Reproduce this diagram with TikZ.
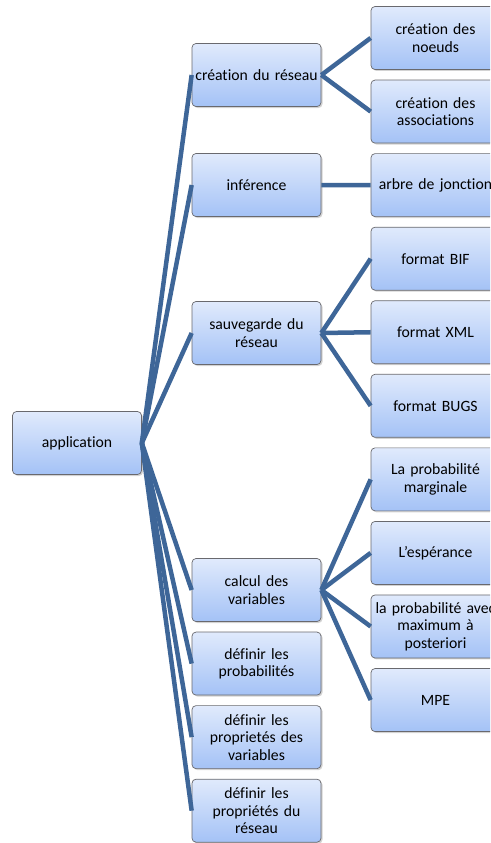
\documentclass[tikz,border=0pt]{standalone}
\usepackage{fontspec}
\setmainfont{Carlito}[Ligatures=CommonOff]
\usepackage{tikz}
\usetikzlibrary{positioning,shadows}

\definecolor{boxtop}{RGB}{224,234,252}
\definecolor{boxbot}{RGB}{164,194,246}
\definecolor{boxline}{RGB}{105,105,110}
\definecolor{linkblue}{RGB}{62,102,152}

\tikzset{
  box/.style={rectangle,rounded corners=4pt,draw=boxline,line width=0.7pt,
    top color=boxtop,bottom color=boxbot,
    text width=125pt,inner sep=2pt,minimum height=63pt,align=center,
    font=\fontsize{15.7pt}{17.5pt}\selectfont,
    drop shadow={shadow xshift=1.5pt,shadow yshift=-1.5pt,opacity=0.35}},
  link/.style={draw=linkblue,line width=4.5pt}
}

\begin{document}
\begin{tikzpicture}[on grid,x=1pt,y=-1pt,node distance=73.56pt]
  \useasboundingbox (0,0) rectangle (490,843);
  \clip (0,0) rectangle (490,843);
  % second level column
  \node[box] (noeuds) at (435.5,38) {création des\\noeuds};
  \node[box,below=of noeuds] (assoc) {création des\\associations};
  \node[box,below=of assoc] (jonction) {arbre de jonction};
  \node[box,below=of jonction] (bif) {format BIF};
  \node[box,below=of bif] (xml) {format XML};
  \node[box,below=of xml] (bugs) {format BUGS};
  \node[box,below=of bugs] (marg) {La probabilité\\marginale};
  \node[box,below=of marg] (esper) {L’espérance};
  \node[box,below=of esper] (posteri) {la probabilité avec\\maximum à\\posteriori};
  \node[box,below=of posteri] (mpe) {MPE};
  % first level
  \node[box] (reseau) at (256.5,75) {création du réseau};
  \node[box] (infer) at (256.5,185) {inférence};
  \node[box] (sauve) at (256.5,333) {sauvegarde du\\réseau};
  \node[box] (calcul) at (256.5,590) {calcul des\\variables};
  \node[box,below=of calcul] (proba) {définir les\\probabilités};
  \node[box,below=of proba] (propvar) {définir les\\proprietés des\\variables};
  \node[box,below=of propvar] (propres) {définir les\\propriétés du\\réseau};
  % root
  \node[box] (app) at (77,443) {application};
  % links
  \foreach \child in {reseau,infer,sauve,calcul,proba,propvar,propres}
    \draw[link] (app.east) -- (\child.west);
  \foreach \parent/\child in {reseau/noeuds,reseau/assoc,infer/jonction,
      sauve/bif,sauve/xml,sauve/bugs,calcul/marg,calcul/esper,
      calcul/posteri,calcul/mpe}
    \draw[link] (\parent.east) -- (\child.west);
\end{tikzpicture}
\end{document}
